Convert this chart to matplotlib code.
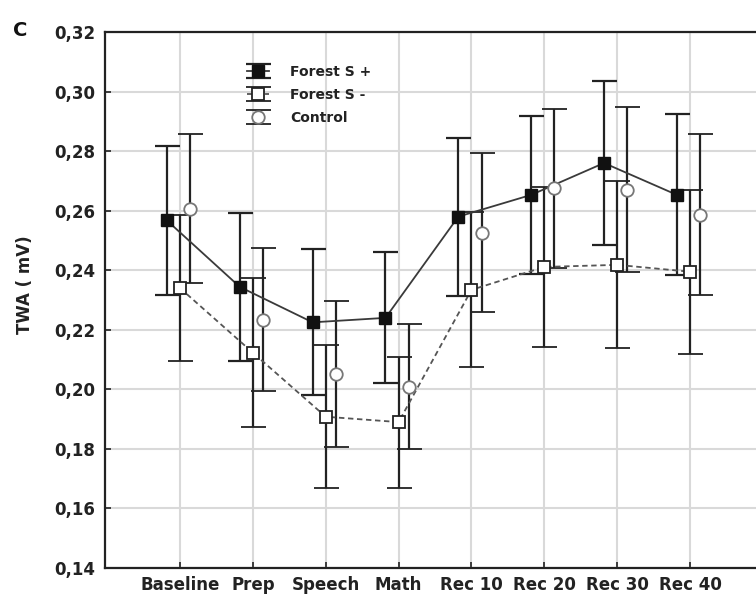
import matplotlib
matplotlib.use("Agg")
import matplotlib.pyplot as plt
import numpy as np

plt.rcParams['font.family'] = ['DejaVu Sans']
plt.rcParams['font.weight'] = 'bold'

categories = ['Baseline', 'Prep', 'Speech', 'Math', 'Rec 10', 'Rec 20', 'Rec 30', 'Rec 40']

forest_plus = [0.2567, 0.2344, 0.2225, 0.2240, 0.2580, 0.2653, 0.2760, 0.2653]
forest_plus_err = [0.025, 0.0248, 0.0245, 0.022, 0.0265, 0.0265, 0.0275, 0.027]

forest_minus = [0.2340, 0.2123, 0.1908, 0.1890, 0.2334, 0.2411, 0.2418, 0.2395]
forest_minus_err = [0.0245, 0.025, 0.024, 0.022, 0.026, 0.027, 0.028, 0.0275]

control = [0.2607, 0.2234, 0.2052, 0.2009, 0.2526, 0.2676, 0.2670, 0.2586]
control_err = [0.025, 0.024, 0.0245, 0.021, 0.0267, 0.0267, 0.0277, 0.027]

y_ticks = [0.14, 0.16, 0.18, 0.20, 0.22, 0.24, 0.26, 0.28, 0.30, 0.32]
y_tick_labels = ['0,14', '0,16', '0,18', '0,20', '0,22', '0,24', '0,26', '0,28', '0,30', '0,32']

fig = plt.figure(figsize=(7.56, 5.98), dpi=100)
ax = fig.add_axes([105 / 756, 1 - 568 / 598, 1 - 105 / 756, (568 - 32) / 598])

x = np.arange(len(categories))
ebar = dict(ecolor='#222222', elinewidth=1.6, capsize=9, capthick=1.6)

h1 = ax.errorbar(x - 0.18, forest_plus, yerr=forest_plus_err, color='#3a3a3a', lw=1.3,
                 ls='-', marker='s', ms=8.5, mfc='#111111', mec='#111111',
                 label='Forest S +', zorder=3, **ebar)
h2 = ax.errorbar(x, forest_minus, yerr=forest_minus_err, color='#555555', lw=1.3,
                 ls=(0, (3, 2)), marker='s', ms=9, mfc='white', mec='#222222', mew=1.3,
                 label='Forest S -', zorder=3, **ebar)
h3 = ax.errorbar(x + 0.14, control, yerr=control_err, color='#666666', lw=0,
                 ls='none', marker='o', ms=9, mfc='white', mec='#777777', mew=1.3,
                 label='Control', zorder=3, **ebar)

ax.set_xlim(-1.03, 7.906)
ax.set_ylim(0.14, 0.32)
ax.set_xticks(x)
ax.set_xticklabels(categories, fontsize=12, color='#222222')
ax.set_yticks(y_ticks)
ax.set_yticklabels(y_tick_labels, fontsize=12, color='#222222')
ax.tick_params(axis='both', direction='in', length=4, width=1.2, color='#222222')
ax.tick_params(axis='y', pad=7)
ax.tick_params(axis='x', pad=6)

ax.grid(True, color='#d9d9d9', lw=1.5, zorder=0)
ax.set_axisbelow(True)
for s in ['left', 'bottom', 'top']:
    ax.spines[s].set_linewidth(1.6)
    ax.spines[s].set_color('#222222')
ax.spines['right'].set_visible(False)

leg = ax.legend(handles=[h1, h2, h3], loc='upper left',
                bbox_to_anchor=(240 / 756, 1 - 58 / 598), bbox_transform=fig.transFigure,
                frameon=False, fontsize=10, handlelength=1.6, handletextpad=1.5,
                labelspacing=0.65, borderpad=0)
for t in leg.get_texts():
    t.set_color('#222222')

fig.text(20 / 756, 1 - 30 / 598, 'C', fontsize=14, ha='center', va='center', color='#111111')
fig.text(25 / 756, 1 - 285 / 598, 'TWA ( mV)', fontsize=12, rotation=90,
         ha='center', va='center', color='#222222')

fig.savefig('out.png', dpi=100)
